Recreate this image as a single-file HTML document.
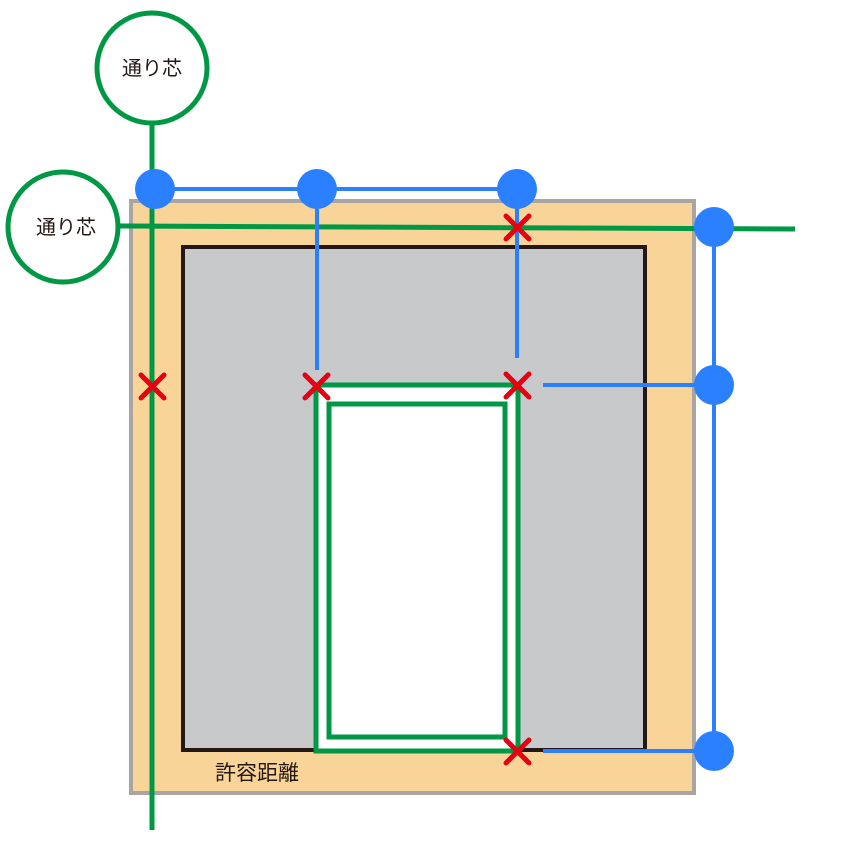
<!DOCTYPE html>
<html><head><meta charset="utf-8"><style>html,body{margin:0;padding:0;background:#fff;width:842px;height:856px;overflow:hidden}</style></head>
<body>
<svg width="842" height="856" viewBox="0 0 842 856" xmlns="http://www.w3.org/2000/svg">
<rect x="131" y="201" width="563" height="592" fill="#f8d499" stroke="#a8a5a3" stroke-width="4"/>
<rect x="183" y="247" width="462" height="503" fill="#c8c9cb" stroke="#231815" stroke-width="4"/>
<rect x="316" y="385" width="202" height="366" fill="#fff" stroke="#009844" stroke-width="5"/>
<rect x="329" y="404" width="176" height="333" fill="#fff" stroke="#009844" stroke-width="5"/>
<g stroke="#009844" stroke-width="5" fill="none">
<line x1="152" y1="120" x2="152" y2="830"/>
<line x1="118" y1="226" x2="795" y2="229"/>
<circle cx="152" cy="68" r="55" fill="#fff"/>
<circle cx="63" cy="227" r="55" fill="#fff"/>
</g>
<g stroke="#2b80ff" stroke-width="4" fill="none">
<line x1="155" y1="189" x2="517" y2="189"/>
<line x1="317" y1="189" x2="317" y2="370"/>
<line x1="517" y1="189" x2="517" y2="358"/>
<line x1="714" y1="227" x2="714" y2="751"/>
<line x1="543" y1="385" x2="714" y2="385"/>
<line x1="543" y1="751" x2="714" y2="751"/>
</g>
<g fill="#2b80ff">
<circle cx="155" cy="189" r="20"/><circle cx="317" cy="189" r="20"/><circle cx="517" cy="189" r="20"/>
<circle cx="714" cy="227" r="20"/><circle cx="714" cy="385" r="20"/><circle cx="714" cy="751" r="20"/>
</g>
<g stroke="#e60012" stroke-width="5" stroke-linecap="round">
<path d="M141 375l23 23M164 375l-23 23"/>
<path d="M305 375l23 23M328 375l-23 23"/>
<path d="M506 374l23 23M529 374l-23 23"/>
<path d="M506 216l23 23M529 216l-23 23"/>
<path d="M506 740l23 23M529 740l-23 23"/>
</g>
<g font-family="Liberation Sans, Noto Sans CJK JP, sans-serif" fill="#231815">
<text x="152" y="75" text-anchor="middle" font-size="20">通り芯</text>
<text x="66" y="234" text-anchor="middle" font-size="20">通り芯</text>
<text x="215" y="780" font-size="21">許容距離</text>
</g>
</svg>
</body></html>
